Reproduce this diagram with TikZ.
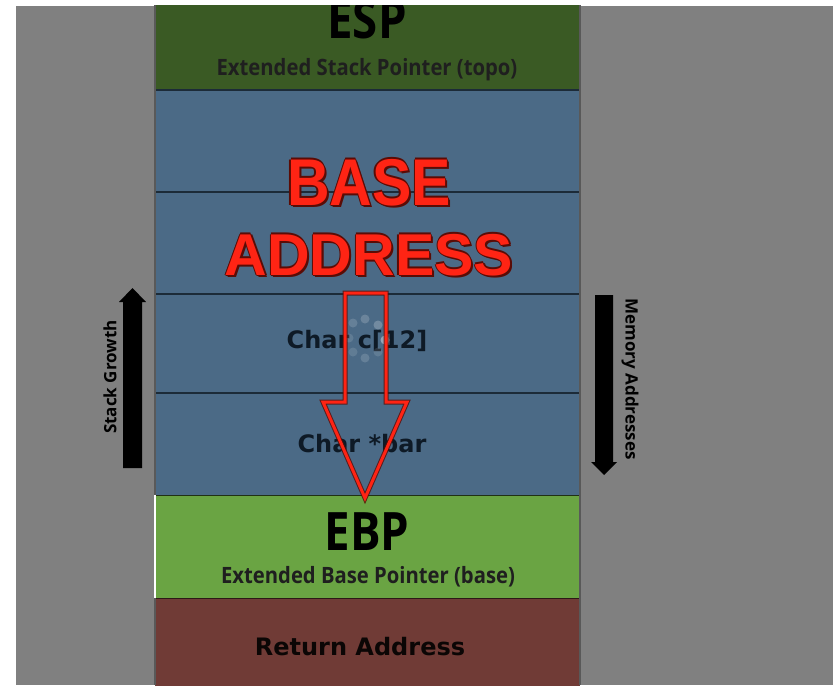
\documentclass[tikz,border=0pt]{standalone}
\usepackage{fontspec}
\usetikzlibrary{calc}
\newfontfamily\condfont[FakeStretch=0.86]{Open Sans}
\newfontfamily\subfont[FakeStretch=0.9]{Open Sans}
\newfontfamily\labfont{Open Sans}
\newfontfamily\verdfont{DejaVu Sans}
\newfontfamily\arialfont{Liberation Sans}
\definecolor{panelgray}{HTML}{808080}
\definecolor{espgreen}{HTML}{3A5A24}
\definecolor{cellblue}{HTML}{4B6A86}
\definecolor{ebpgreen}{HTML}{6AA443}
\definecolor{retred}{HTML}{703B36}
\definecolor{divline}{HTML}{1C2B38}
\definecolor{bright}{HTML}{FF2414}
\definecolor{darkred}{HTML}{5A0C06}
\definecolor{celltext}{HTML}{0E1A26}
\tikzset{
  rowbox/.style={anchor=north west, inner sep=0pt, minimum width=425pt, draw=none},
  bigreg/.style={anchor=base, inner sep=0pt, font=\condfont\bfseries\fontsize{53}{53}\selectfont, text=black},
  subreg/.style={anchor=base, inner sep=0pt, font=\subfont\bfseries\fontsize{22.5}{22.5}\selectfont, text=black!88},
  celllab/.style={anchor=base, inner sep=0pt, font=\verdfont\bfseries\fontsize{24}{24}\selectfont, text=celltext},
  sidelab/.style={anchor=center, inner sep=0pt, font=\labfont\bfseries\fontsize{17}{17}\selectfont, text=black},
  blackarrow/.style={fill=black, draw=none},
  hollowarrow/.style={draw=bright, line width=3pt, line join=miter},
  redtext/.style={anchor=base, inner sep=0pt, font=\arialfont\bfseries\fontsize{59}{59}\selectfont}
}
\newcommand{\outlinedtext}[4]{% name, position, yscale, text
  \foreach \dx/\dy in {2/2,-1.3/0,1.3/0,0/-1.3,0/1.3}{
    \node[redtext, text=darkred, yscale=#3] at ($(#2)+(\dx,\dy)$) {#4};
  }
  \node[redtext, text=bright, yscale=#3] (#1) at (#2) {#4};
}
\begin{document}
\begin{tikzpicture}[x=1pt,y=-1pt]
\useasboundingbox (0,0) rectangle (840,685);
\fill[white] (0,0) rectangle (840,685);
\begin{scope}
\clip (16,6) rectangle (833,685);
\fill[panelgray] (16,6) rectangle (833,685);
% stack rows
\node[rowbox, fill=espgreen, minimum height=90pt] (esp) at (155,0) {};
\node[rowbox, fill=cellblue, minimum height=102pt] (row1) at (155,90) {};
\node[rowbox, fill=cellblue, minimum height=102pt] (row2) at (155,192) {};
\node[rowbox, fill=cellblue, minimum height=99pt] (row3) at (155,294) {};
\node[rowbox, fill=cellblue, minimum height=102pt] (row4) at (155,393) {};
\node[rowbox, fill=ebpgreen, minimum height=103pt] (ebp) at (155,495) {};
\node[rowbox, fill=retred, minimum height=90pt] (ret) at (155,598) {};
% dividers
\foreach \yy in {90,192,294,393}{
  \draw[divline, line width=1.6pt] (155,\yy) -- (580,\yy);
}
\draw[black!70!ebpgreen, line width=1pt] (155,495) -- (580,495);
\draw[black!60!retred, line width=1pt] (155,598) -- (580,598);
\draw[black!65, line width=1.6pt] (155,0) -- (155,685);
\draw[black!65, line width=1.6pt] (580,0) -- (580,685);
\draw[white, line width=2.5pt] (155,495) -- (155,598);
% register labels
\node[bigreg] (esplab) at (367,38) {ESP};
\node[subreg] (espsub) at (367,75) {Extended Stack Pointer (topo)};
\node[bigreg] (ebplab) at (367,550) {EBP};
\node[subreg] (ebpsub) at (368,583) {Extended Base Pointer (base)};
\node[celllab, text=black!90!retred] (retlab) at (360,655) {Return Address};
\node[celllab] (clab) at (357,348) {Char c[12]};
\node[celllab] (barlab) at (362,452) {Char *bar};
% spinner dots
\foreach \sx/\sy/\op in {353/323/0.15,365/319/0.18,378/325/0.22,385/340/0.4,378/352/0.12,365/358/0.15,353/352/0.12,349/338/0.12}{
  \fill[white, fill opacity=\op] (\sx,\sy) circle (4.5pt);
}
% BASE ADDRESS
\outlinedtext{baselab}{369,205}{1.12}{BASE}
\outlinedtext{addrlab}{369,275}{1}{ADDRESS}
% hollow red arrow
\draw[darkred, line width=5pt, line join=miter, opacity=0.8] (345,293) -- (386,293) -- (386,402) -- (407,402) -- (365,498) -- (323,402) -- (345,402) -- cycle;
\draw[hollowarrow] (345,293) -- (386,293) -- (386,402) -- (407,402) -- (365,498) -- (323,402) -- (345,402) -- cycle;
% stack growth arrow
\fill[blackarrow] (123,468) -- (123,302) -- (119,302) -- (132.5,288) -- (146,302) -- (142,302) -- (142,468) -- cycle;
\node[sidelab, rotate=90] (sg) at (110,377) {Stack Growth};
% memory addresses arrow
\fill[blackarrow] (595,295) -- (595,462) -- (591,462) -- (604,475) -- (617,462) -- (613,462) -- (613,295) -- cycle;
\node[sidelab, rotate=-90] (ma) at (630,379) {Memory Addresses};
\end{scope}
\end{tikzpicture}
\end{document}
